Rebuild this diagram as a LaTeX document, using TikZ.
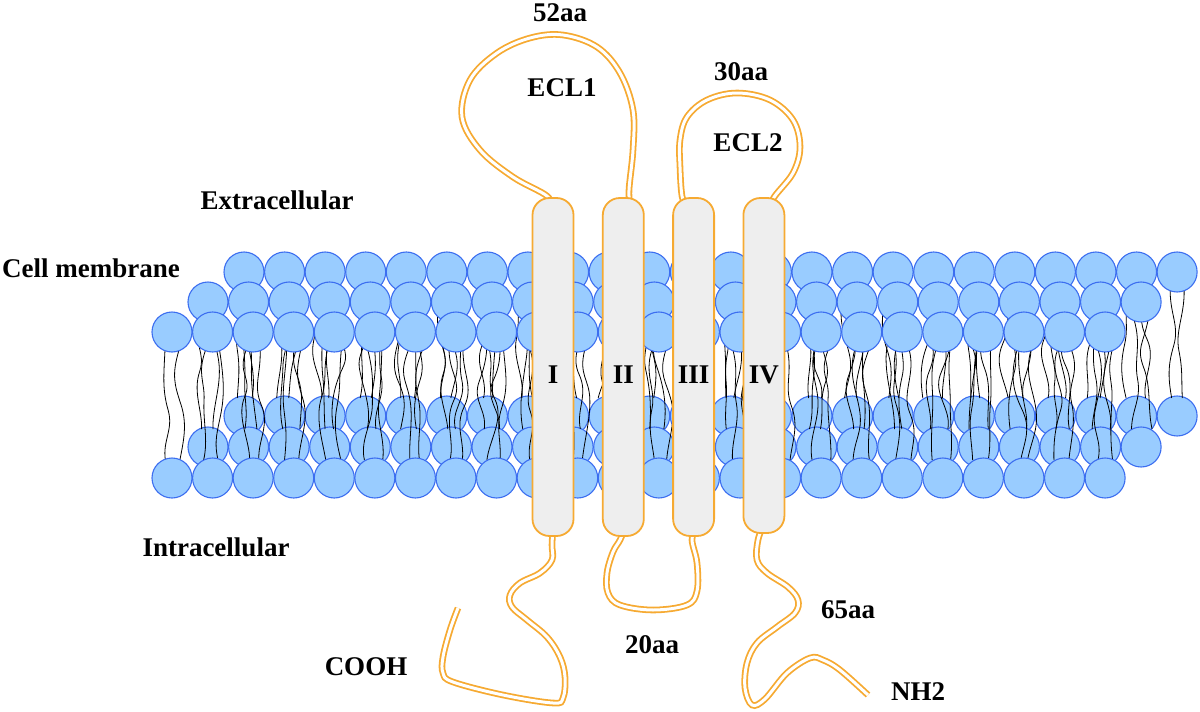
\documentclass[tikz,border=0pt]{standalone}
\usepackage{fontspec}
\setmainfont{Liberation Serif}
\usetikzlibrary{positioning, backgrounds}
\definecolor{headfill}{RGB}{153,204,255}
\definecolor{headline}{RGB}{60,110,240}
\definecolor{chain}{RGB}{246,170,50}
\definecolor{helixfill}{RGB}{238,238,238}

\begin{document}
\begin{tikzpicture}[x=1pt, y=-1pt,
    % Define node styles
    head/.style={circle, draw=headline, fill=headfill, line width=1.1pt,
                 minimum size=40pt, inner sep=0pt},
    helix/.style={rectangle, rounded corners=17pt, draw=chain, fill=helixfill,
                  line width=1.8pt, minimum width=41pt, minimum height=338pt},
    tube/.style={draw=chain, double=white, line width=1.8pt, double distance=3pt},
    tail/.style={black, line width=0.8pt},
    txt/.style={font=\fontsize{27}{30}\selectfont\bfseries, inner sep=0pt}
]
    \useasboundingbox (0,0) rectangle (1200,712);

    % Lower leaflet, back rows
    \foreach \r in {0,1}{
        \foreach \i in {0,...,23}{
            \node[head] (l\r-\i) at (244-36*\r+40.57*\i, 416+31*\r) {};
        }
    }

    % Lipid tails
    \pgfmathsetseed{11}
    \foreach \r in {0,1,2}{
        \foreach \i in {0,...,23}{
            \foreach \s in {-7,7}{
                \pgfmathsetmacro{\xa}{244-36*\r+40.57*\i+\s}
                \pgfmathsetmacro{\ya}{290+30*\r}
                \pgfmathsetmacro{\yb}{398+31*\r}
                \pgfmathsetmacro{\ym}{(\ya+\yb)/2+8*rand}
                \pgfmathsetmacro{\xm}{\xa+6*rand}
                \pgfmathsetmacro{\ca}{\xa+10*rand}
                \pgfmathsetmacro{\cb}{\xm+10*rand}
                \pgfmathsetmacro{\xb}{\xa+4*rand}
                \draw[tail] (\xa,\ya) .. controls (\ca,\ya+25) and (\cb,\ym-20) .. (\xm,\ym)
                    .. controls (2*\xm-\cb,\ym+20) and (\xb+5*rand,\yb-20) .. (\xb,\yb);
            }
        }
    }

    % Upper leaflet
    \foreach \r in {0,1,2}{
        \foreach \i in {0,...,23}{
            \node[head] (u\r-\i) at (244-36*\r+40.57*\i, 272+30*\r) {};
        }
    }

    % Lower leaflet, front row
    \foreach \i in {0,...,23}{
        \node[head] (l2-\i) at (172+40.57*\i, 478) {};
    }

    % Transmembrane helices
    \node[helix] (h1) at (553,367) {};
    \node[helix, right=27.5pt of h1] (h2) {};
    \node[helix, right=27.5pt of h2] (h3) {};
    \node[helix, right=27.5pt of h3, minimum height=335pt, yshift=1.5pt] (h4) {};
    \node[txt] (n1) at ([yshift=-8pt]h1.center) {I};
    \node[txt] (n2) at ([yshift=-8pt]h2.center) {II};
    \node[txt] (n3) at ([yshift=-8pt]h3.center) {III};
    \node[txt] (n4) at ([yshift=-9pt]h4.center) {IV};

    % Loops and tails of the chain
    \begin{pgfonlayer}{background}
        \draw[tube] plot[smooth, tension=0.6] coordinates {([xshift=-4pt, yshift=-10pt]h1.north)
            (547,196) (513,177) (480,150) (462,117) (470,80) (497,53) (530,38) (563,35)
            (597,47) (620,73) (633,110) (633,150) (629,190) ([xshift=7pt, yshift=-10pt]h2.north)};
        \draw[tube] plot[smooth, tension=0.6] coordinates {([xshift=-7pt, yshift=-10pt]h3.north)
            (682,196) (680,167) (680,140) (687,117) (707,100) (737,93) (770,100) (793,120)
            (800,147) (793,173) (773,199) ([xshift=12pt, yshift=-12pt]h4.north)};
        \draw[tube] plot[smooth, tension=0.6] coordinates {([yshift=10pt]h1.south)
            (552,545) (552,560) (540,573) (520,583) (510,595) (512,607) (527,620) (547,637)
            (560,657) (565,677) (563,698) (553,703) (503,695) (453,682) (443,673) (443,657)
            (450,630) (458,608)};
        \draw[tube] plot[smooth, tension=0.6] coordinates {([xshift=2pt, yshift=10pt]h2.south)
            (620,540) (613,552) (607,573) (608,593) (620,605) (653,610) (687,605) (697,591)
            (697,563) (692,540) ([xshift=2pt, yshift=10pt]h3.south)};
        \draw[tube] plot[smooth, tension=0.6] coordinates {([yshift=10pt]h4.south)
            (758,540) (757,560) (767,573) (788,587) (798,600) (795,613) (777,627) (757,643)
            (747,663) (745,688) (752,705) (765,699) (787,673) (810,658) (823,660) (840,670)
            (868,695)};
    \end{pgfonlayer}

    % Labels
    \node[txt] (ecl1n) at (560,13) {52aa};
    \node[txt] (ecl1) at (562,88) {ECL1};
    \node[txt] (ecl2n) at (741,72) {30aa};
    \node[txt] (ecl2) at (748,143) {ECL2};
    \node[txt] (extra) at (277,200) {Extracellular};
    \node[txt, anchor=west] (memb) at (2,268) {Cell membrane};
    \node[txt] (intra) at (216,547) {Intracellular};
    \node[txt] (cooh) at (366,667) {COOH};
    \node[txt] (icl1) at (652,645) {20aa};
    \node[txt] (icl2) at (848,610) {65aa};
    \node[txt] (nh2) at (918,692) {NH2};
\end{tikzpicture}
\end{document}
